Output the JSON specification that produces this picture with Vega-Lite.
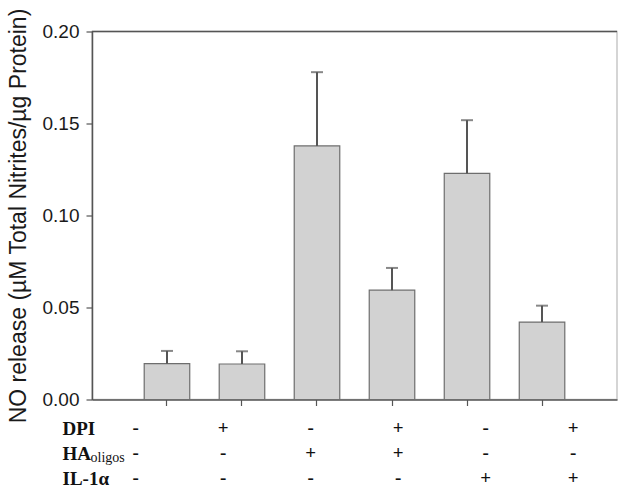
{
  "$schema": "https://vega.github.io/schema/vega-lite/v6.json",
  "padding": {"left": 6, "top": 6.5, "right": 5, "bottom": 0},
  "background": "white",
  "config": {"view": {"stroke": null}, "font": "Liberation Sans"},
  "bounds": "flush",
  "spacing": 16,
  "vconcat": [
    {
      "width": 525,
      "height": 368,
      "view": {"stroke": "#c8c8c8", "strokeWidth": 1.5},
      "data": {"values": [
        {"cond": "c1", "mean": 0.0195, "upper": 0.0264},
        {"cond": "c2", "mean": 0.0193, "upper": 0.0262},
        {"cond": "c3", "mean": 0.1378, "upper": 0.1779},
        {"cond": "c4", "mean": 0.0594, "upper": 0.0715},
        {"cond": "c5", "mean": 0.1229, "upper": 0.1518},
        {"cond": "c6", "mean": 0.0421, "upper": 0.0510}
      ]},
      "layer": [
        {
          "mark": {"type": "bar", "fill": "#d2d2d2", "stroke": "#6e6e6e", "strokeWidth": 1.2},
          "encoding": {
            "x": {"field": "cond", "type": "nominal", "sort": null,
                  "scale": {"paddingInner": 0.393, "paddingOuter": 0.696},
                  "axis": {"labels": false, "title": null, "tickSize": 6, "domainColor": "#555555", "tickColor": "#555555", "domainWidth": 1.5, "tickWidth": 1.2}},
            "y": {"field": "mean", "type": "quantitative",
                  "scale": {"domain": [0, 0.2], "nice": false},
                  "axis": {"values": [0, 0.05, 0.1, 0.15, 0.2], "format": ".2f", "grid": false,
                           "labelFontSize": 19, "labelColor": "#1a1a1a", "labelPadding": 7,
                           "tickSize": 6, "tickColor": "#555555", "domainColor": "#555555", "domainWidth": 1.5, "tickWidth": 1.2,
                           "title": "NO release (µM Total Nitrites/µg Protein)",
                           "titleFontSize": 23, "titleFontWeight": "normal", "titleColor": "#1a1a1a", "titlePadding": 12}}
          }
        },
        {
          "mark": {"type": "rule", "color": "#555555", "strokeWidth": 2},
          "encoding": {
            "x": {"field": "cond", "type": "nominal", "sort": null},
            "y": {"field": "mean", "type": "quantitative"},
            "y2": {"field": "upper"}
          }
        },
        {
          "mark": {"type": "tick", "orient": "horizontal", "color": "#555555", "size": 12, "thickness": 2},
          "encoding": {
            "x": {"field": "cond", "type": "nominal", "sort": null},
            "y": {"field": "upper", "type": "quantitative"}
          }
        },
        {
          "data": {"values": [{"top": 0.2}]},
          "mark": {"type": "rule", "color": "#555555", "strokeWidth": 1.5},
          "encoding": {"y": {"field": "top", "type": "quantitative"}}
        }
      ]
    },
    {
      "width": 525,
      "height": 75,
      "data": {"values": [
        {"cond": "c1", "factor": "DPI", "sign": "-"},
        {"cond": "c2", "factor": "DPI", "sign": "+"},
        {"cond": "c3", "factor": "DPI", "sign": "-"},
        {"cond": "c4", "factor": "DPI", "sign": "+"},
        {"cond": "c5", "factor": "DPI", "sign": "-"},
        {"cond": "c6", "factor": "DPI", "sign": "+"},
        {"cond": "c1", "factor": "HA", "sign": "-"},
        {"cond": "c2", "factor": "HA", "sign": "-"},
        {"cond": "c3", "factor": "HA", "sign": "+"},
        {"cond": "c4", "factor": "HA", "sign": "+"},
        {"cond": "c5", "factor": "HA", "sign": "-"},
        {"cond": "c6", "factor": "HA", "sign": "-"},
        {"cond": "c1", "factor": "IL-1α", "sign": "-"},
        {"cond": "c2", "factor": "IL-1α", "sign": "-"},
        {"cond": "c3", "factor": "IL-1α", "sign": "-"},
        {"cond": "c4", "factor": "IL-1α", "sign": "-"},
        {"cond": "c5", "factor": "IL-1α", "sign": "+"},
        {"cond": "c6", "factor": "IL-1α", "sign": "+"}
      ]},
      "resolve": {"axis": {"y": "independent"}},
      "layer": [
        {
          "mark": {"type": "text", "font": "Liberation Serif", "fontWeight": "bold", "fontSize": 19, "color": "#111111"},
          "encoding": {
            "x": {"field": "cond", "type": "nominal", "sort": null,
                  "scale": {"paddingInner": 0.393, "paddingOuter": 0.696}, "axis": null},
            "y": {"field": "factor", "type": "nominal", "sort": ["DPI", "HA", "IL-1α"],
                  "axis": {"orient": "left", "title": null, "domain": false, "ticks": false, "labelAlign": "left", "labelPadding": 30,
                           "labelFont": "Liberation Serif", "labelFontWeight": "bold", "labelFontSize": 19, "labelColor": "#111111"}},
            "text": {"field": "sign"}
          }
        },
        {
          "mark": {"type": "text", "opacity": 0},
          "encoding": {
            "x": {"field": "cond", "type": "nominal", "sort": null},
            "y": {"field": "factor", "type": "nominal", "sort": ["DPI", "HA", "IL-1α"],
                  "axis": {"orient": "left", "title": null, "domain": false, "ticks": false, "labelAlign": "left", "labelPadding": 2,
                           "labelExpr": "datum.value == 'HA' ? 'oligos' : ''", "labelOffset": 4,
                           "labelFont": "Liberation Serif", "labelFontWeight": "normal", "labelFontSize": 14, "labelColor": "#111111"}},
            "text": {"field": "sign"}
          }
        }
      ]
    }
  ]
}
